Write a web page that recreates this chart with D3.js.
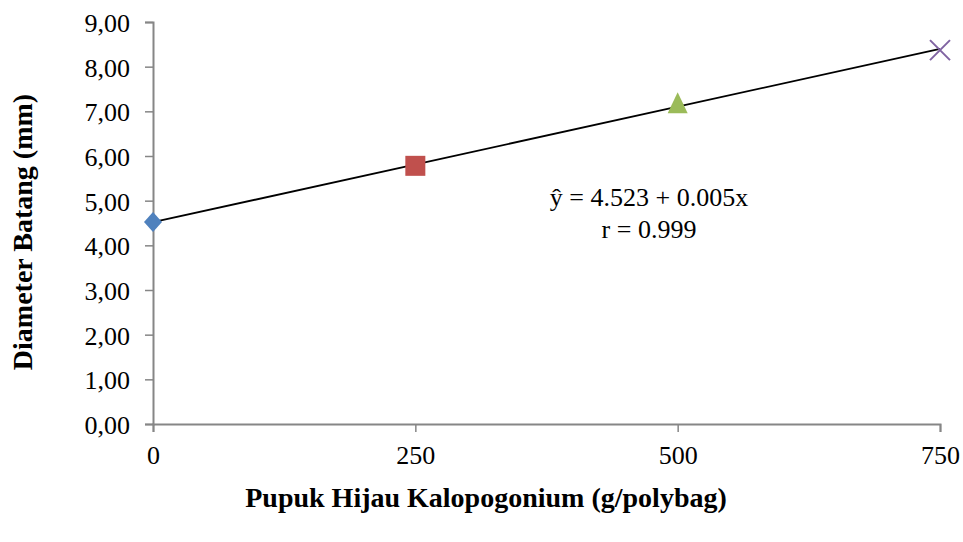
<!DOCTYPE html>
<html>
<head>
<meta charset="utf-8">
<script src="https://cdn.jsdelivr.net/npm/d3@7"></script>
<style>
  body { margin: 0; background: #fff; }
  text { font-family: "Liberation Serif", "Times New Roman", serif; }
</style>
</head>
<body>
<div id="wrapper"></div>
<script>
const doses = [0, 250, 500, 750]
const diameters = [4.52, 5.78, 7.16, 8.37]
const markerShapes = ['diamond', 'square', 'triangle', 'cross']
const markerColors = ['#4F81BD', '#C0504D', '#9BBB59', '#8064A2']
const yTicks = [0, 1, 2, 3, 4, 5, 6, 7, 8, 9]
const equationLines = ['ŷ = 4.523 + 0.005x', 'r = 0.999']

function drawChart() {
  let dimensions = {
    width: 963,
    height: 542,
    margin: {
      top: 22,
      right: 23,
      bottom: 118,
      left: 153
    },
  }
  dimensions.boundedWidth = dimensions.width - dimensions.margin.left - dimensions.margin.right
  dimensions.boundedHeight = dimensions.height - dimensions.margin.top - dimensions.margin.bottom

  const dataset = doses.map((d, i) => ({ x: d, y: diameters[i], shape: markerShapes[i], color: markerColors[i] }))

  const svg = d3.select('#wrapper')
    .append('svg')
    .attr('width', dimensions.width)
    .attr('height', dimensions.height)

  const bounds = svg.append('g')
    .attr('transform', `translate(${dimensions.margin.left}, ${dimensions.margin.top})`)

  const xScale = d3.scaleLinear().domain([0, 750]).range([0, dimensions.boundedWidth])
  const yScale = d3.scaleLinear().domain([0, 9]).range([dimensions.boundedHeight, 0])

  // axes
  const axisColor = '#868686'
  const yAxis = bounds.append('g')
    .call(d3.axisLeft(yScale).tickValues(yTicks).tickSize(8).tickPadding(15)
      .tickFormat(d => d3.format('.2f')(d).replace('.', ',')))
  const xAxis = bounds.append('g')
    .attr('transform', `translate(0, ${dimensions.boundedHeight})`)
    .call(d3.axisBottom(xScale).tickValues(doses).tickSize(8).tickPadding(14))

  ;[xAxis, yAxis].forEach(ax => {
    ax.select('.domain').attr('stroke', axisColor).attr('stroke-width', 2)
    ax.selectAll('.tick line').attr('stroke', axisColor).attr('stroke-width', 1.5)
    ax.selectAll('.tick text')
      .attr('fill', '#000')
      .style('font-size', '26px')
      .style('font-family', '"Liberation Serif", serif')
  })
  yAxis.selectAll('.tick text').attr('dy', '0.36em')

  // trendline (least squares on the points)
  const mx = d3.mean(dataset, d => d.x)
  const my = d3.mean(dataset, d => d.y)
  const slope = d3.sum(dataset, d => (d.x - mx) * (d.y - my)) / d3.sum(dataset, d => (d.x - mx) ** 2)
  const intercept = my - slope * mx
  const xDomain = xScale.domain()
  bounds.append('line')
    .attr('x1', xScale(xDomain[0]))
    .attr('y1', yScale(intercept + slope * xDomain[0]))
    .attr('x2', xScale(xDomain[1]))
    .attr('y2', yScale(intercept + slope * xDomain[1]))
    .attr('stroke', '#000')
    .attr('stroke-width', 1.8)

  // markers
  const markers = bounds.selectAll('.marker')
    .data(dataset)
    .enter().append('g')
    .attr('class', 'marker')
    .attr('transform', d => `translate(${xScale(d.x)}, ${yScale(d.y)})`)

  markers.each(function (d) {
    const g = d3.select(this)
    if (d.shape === 'diamond') {
      g.append('path').attr('d', 'M0,-10 L9,0 L0,10 L-9,0 Z').attr('fill', d.color)
    } else if (d.shape === 'square') {
      g.append('rect').attr('x', -10).attr('y', -10).attr('width', 20).attr('height', 20).attr('fill', d.color)
    } else if (d.shape === 'triangle') {
      g.append('path').attr('d', 'M0,-12 L10,9 L-10,9 Z').attr('fill', d.color)
    } else {
      g.append('path').attr('d', 'M-10,-10 L10,10 M10,-10 L-10,10')
        .attr('stroke', d.color).attr('stroke-width', 2).attr('fill', 'none')
    }
  })

  // equation
  bounds.append('text')
    .attr('text-anchor', 'middle')
    .style('font-size', '26px')
    .selectAll('tspan')
    .data(equationLines)
    .enter().append('tspan')
    .attr('x', 496)
    .attr('y', (d, i) => 184 + i * 32)
    .text(d => d)

  // axis labels
  svg.append('text')
    .attr('x', 486)
    .attr('y', 507)
    .attr('text-anchor', 'middle')
    .style('font-size', '28px')
    .style('font-weight', 'bold')
    .text('Pupuk Hijau Kalopogonium (g/polybag)')

  svg.append('text')
    .attr('transform', `translate(32, 232) rotate(-90)`)
    .attr('text-anchor', 'middle')
    .style('font-size', '28px')
    .style('font-weight', 'bold')
    .text('Diameter Batang (mm)')
}

drawChart()
</script>
</body>
</html>
